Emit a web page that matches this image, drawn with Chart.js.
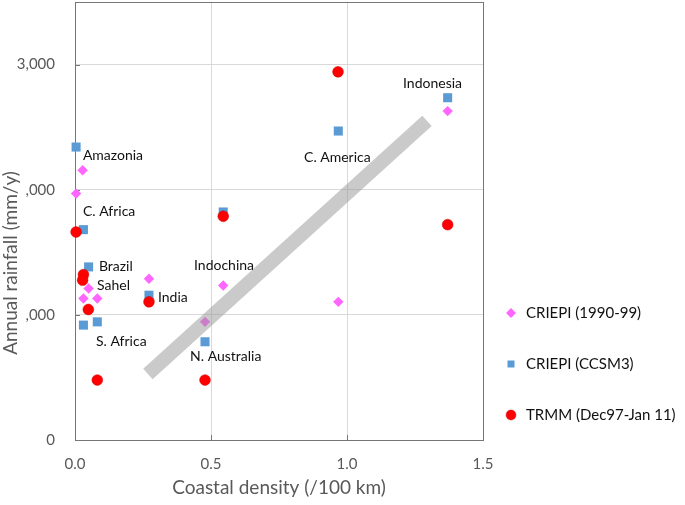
<!DOCTYPE html>
<html><head><meta charset="utf-8">
<script src="https://cdn.jsdelivr.net/npm/chart.js@4/dist/chart.umd.min.js"></script>
<style>html,body{margin:0;padding:0;background:#fff}#wrap{width:685px;height:505px}</style>
</head><body><div id="wrap"><canvas id="c" width="685" height="505"></canvas></div>
<script>
// ---- data ----
const xTicks = [0, 0.5, 1.0, 1.5];
const yTicks = [0, 1000, 2000, 3000];
const xTitle = "Coastal density (/100 km)";
const yTitle = "Annual rainfall (mm/y)";

const seriesNames = ["CRIEPI (1990-99)", "CRIEPI (CCSM3)", "TRMM (Dec97-Jan 11)"];

const criepi9099X = [0.028, 0.004, 0.050, 0.031, 0.082, 0.272, 0.478, 0.545, 0.968, 1.370];
const criepi9099Y = [2155, 1969, 1211, 1131, 1131, 1288, 944, 1234, 1104, 2628];

const ccsm3X = [0.004, 0.031, 0.050, 0.031, 0.082, 0.272, 0.478, 0.545, 0.968, 1.370];
const ccsm3Y = [2341, 1681, 1383, 918, 944, 1157, 785, 1822, 2469, 2735];

const trmmX = [0.004, 0.031, 0.028, 0.049, 0.082, 0.272, 0.478, 0.545, 0.967, 1.370];
const trmmY = [1662, 1322, 1277, 1043, 479, 1104, 479, 1788, 2942, 1721];

const trendX = [0.268, 1.294];
const trendY = [527, 2550];

const noteText = ["Indonesia", "Amazonia", "C. America", "C. Africa", "Brazil", "Indochina", "Sahel", "India", "S. Africa", "N. Australia"];
const noteX = [1.206, 0.029, 0.842, 0.029, 0.088, 0.4375, 0.081, 0.305, 0.077, 0.423];
const noteY = [2849, 2275, 2259, 1828, 1389, 1397, 1237, 1141, 790, 670];

// ---- helpers ----
const pts = (xs, ys) => xs.map((x, i) => ({x: x, y: ys[i]}));
const FONT = "Lato, 'Open Sans', sans-serif";

const decor = {
  id: 'decor',
  beforeLayout(chart) {
    const lg = chart.legend;
    if (lg && !lg._fixedW) {
      const f = lg.fit.bind(lg);
      lg.fit = function () { f(); this.width = 202; };
      lg._fixedW = true;
    }
  },
  afterLayout(chart) {
    const lg = chart.legend;
    if (!lg) return;
    lg.left = 467.5; lg.right = chart.width;
    const h = lg.bottom - lg.top;
    lg.top = 269.5; lg.bottom = lg.top + h;
  },
  beforeDraw(chart) {
    const c = chart.ctx;
    c.save(); c.fillStyle = '#fff'; c.fillRect(0, 0, chart.width, chart.height); c.restore();
  },
  beforeDatasetsDraw(chart) {
    const c = chart.ctx, a = chart.chartArea, sx = chart.scales.x, sy = chart.scales.y;
    c.save();
    c.strokeStyle = '#767676'; c.lineWidth = 1;
    c.beginPath();
    xTicks.slice(1, -1).forEach(v => { const px = Math.round(sx.getPixelForValue(v)) + 0.5; c.moveTo(px, a.bottom); c.lineTo(px, a.bottom - 5); });
    yTicks.slice(1).forEach(v => { const py = Math.round(sy.getPixelForValue(v)) + 0.5; c.moveTo(a.left, py); c.lineTo(a.left + 5, py); });
    c.stroke();
    c.strokeRect(Math.round(a.left) + 0.5, Math.round(a.top) + 0.5, Math.round(a.right - a.left), Math.round(a.bottom - a.top));
    c.restore();
  },
  afterDraw(chart) {
    const c = chart.ctx, sx = chart.scales.x, sy = chart.scales.y;
    c.save();
    c.fillStyle = '#111'; c.font = '14px ' + FONT; c.textAlign = 'left'; c.textBaseline = 'middle';
    noteText.forEach((t, i) => c.fillText(t, sx.getPixelForValue(noteX[i]), sy.getPixelForValue(noteY[i])));
    // y-axis title (its white box hides the leading digits of the middle tick labels, as in the reference)
    c.fillStyle = '#fff'; c.fillRect(0, 162, 26, 202);
    c.translate(11, 263); c.rotate(-Math.PI / 2);
    c.fillStyle = '#595959'; c.font = '19px ' + FONT; c.textAlign = 'center'; c.textBaseline = 'middle';
    c.fillText(yTitle, 0, 0);
    c.restore();
  }
};

new Chart(document.getElementById('c'), {
  type: 'scatter',
  data: {
    datasets: [
      {label: seriesNames[0], data: pts(criepi9099X, criepi9099Y), pointStyle: 'rectRot', pointRadius: 5.2, pointHoverRadius: 5.2,
       backgroundColor: '#ff66ff', borderColor: '#ff66ff', borderWidth: 0, order: 3, clip: false},
      {label: seriesNames[1], data: pts(ccsm3X, ccsm3Y), pointStyle: 'rect', pointRadius: 6.4, pointHoverRadius: 6.4,
       backgroundColor: '#5b9bd5', borderColor: '#5b9bd5', borderWidth: 0, order: 2, clip: false},
      {label: seriesNames[2], data: pts(trmmX, trmmY), pointStyle: 'circle', pointRadius: 5.4, pointHoverRadius: 5.4,
       backgroundColor: '#ff0000', borderColor: '#d00000', borderWidth: 0.5, order: 1, clip: false},
      {label: 'trend', data: pts(trendX, trendY), showLine: true, pointRadius: 0, borderWidth: 14,
       borderColor: 'rgba(150,150,150,0.5)', borderCapStyle: 'butt', order: 0, clip: false}
    ]
  },
  options: {
    responsive: false, animation: false, devicePixelRatio: 1,
    layout: {autoPadding: false, padding: {top: 2, left: 0, right: 0, bottom: 0}},
    plugins: {
      tooltip: {enabled: false},
      legend: {
        position: 'right', align: 'start', fullSize: false,
        labels: {
          usePointStyle: true, boxWidth: 15, boxHeight: 7, padding: 36, color: '#111',
          font: {family: FONT, size: 15},
          filter: item => item.text !== 'trend',
          sort: (a, b) => a.datasetIndex - b.datasetIndex
        }
      }
    },
    scales: {
      x: {
        type: 'linear', min: 0, max: 1.5,
        afterBuildTicks: s => { s.ticks = xTicks.map(v => ({value: v})); },
        afterFit: s => { s.height = 65; s.paddingLeft = 0; s.paddingRight = 0; },
        grid: {color: '#d9d9d9', drawTicks: false},
        border: {display: false},
        ticks: {padding: 15, color: '#595959', font: {family: FONT, size: 15}, callback: v => Number(v).toFixed(1)},
        title: {display: true, text: xTitle, color: '#595959', font: {family: FONT, size: 19}, padding: {top: 0, bottom: 6}}
      },
      y: {
        type: 'linear', min: 0, max: 3500,
        afterBuildTicks: s => { s.ticks = yTicks.map(v => ({value: v})); },
        afterFit: s => { s.width = 75; s.paddingTop = 0; s.paddingBottom = 0; },
        grid: {color: '#d9d9d9', drawTicks: false},
        border: {display: false},
        ticks: {padding: 20, color: '#595959', font: {family: FONT, size: 15}, callback: v => Number(v).toLocaleString('en-US')}
      }
    }
  },
  plugins: [decor]
});
</script>
</body></html>
